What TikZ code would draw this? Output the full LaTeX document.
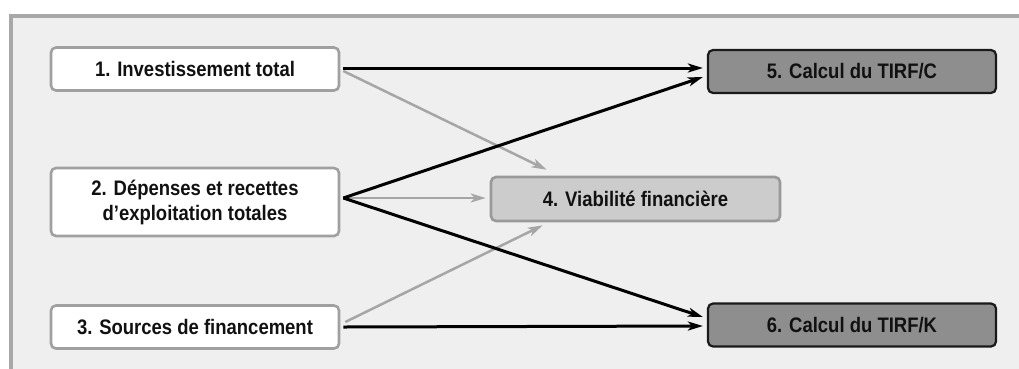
\documentclass[tikz,border=0pt]{standalone}
\usepackage{fontspec}
\setmainfont{Liberation Sans}[FakeStretch=0.88]
\usetikzlibrary{arrows.meta}
\definecolor{framegray}{HTML}{A8A8A8}
\definecolor{framefill}{HTML}{EFEFEF}
\definecolor{lightborder}{HTML}{A0A0A0}
\definecolor{midfill}{HTML}{CCCCCC}
\definecolor{midborder}{HTML}{999999}
\definecolor{darkfill}{HTML}{8E8E8E}
\definecolor{darkborder}{HTML}{1A1A1A}
\definecolor{greyarrow}{HTML}{A6A6A6}
\definecolor{textcol}{HTML}{111111}
\tikzset{
  base/.style={rounded corners=5pt, minimum height=43pt, inner sep=0pt,
    font=\fontsize{21pt}{25pt}\selectfont\bfseries, text=textcol, align=center},
  inbox/.style={base, draw=lightborder, line width=2.6pt, fill=white, minimum width=288pt},
  midbox/.style={base, draw=midborder, line width=2.6pt, fill=midfill, minimum width=289pt, minimum height=44pt},
  outbox/.style={base, draw=darkborder, line width=2.2pt, fill=darkfill, minimum width=288pt},
  blackarrow/.style={line width=3pt, draw=black, -{Stealth[length=15pt,width=9pt,inset=4pt]}},
  greyarr/.style={line width=2.5pt, draw=greyarrow, -{Stealth[length=15pt,width=9pt,inset=4pt]}},
}
\begin{document}
\begin{tikzpicture}[x=1pt,y=-1pt]
\useasboundingbox (0,0) rectangle (1019,368);
\begin{scope}
\clip (0,0) rectangle (1019,368);
\draw[draw=framegray, fill=framefill, line width=3.5pt] (11,16) rectangle (1040,400);
\end{scope}

\node[inbox] (b1) at (195,69) {1. Investissement total};
\node[inbox, minimum height=68pt] (b2) at (195,202) {2. Dépenses et recettes\\d’exploitation totales};
\node[inbox] (b3) at (195,327) {3. Sources de financement};
\node[midbox] (b4) at (635.5,199) {4. Viabilité financière};
\node[outbox] (b5) at (852,71.5) {5. Calcul du TIRF/C};
\node[outbox] (b6) at (852,325) {6. Calcul du TIRF/K};

% grey arrows to 4
\draw[greyarr] ([xshift=3pt,yshift=-2pt]b1.east) -- ([xshift=57pt,yshift=6pt]b4.north west);
\draw[greyarr] ([xshift=3pt,yshift=4pt]b2.east) -- ([xshift=-4pt,yshift=1pt]b4.west);
\draw[greyarr] ([xshift=5pt,yshift=5pt]b3.east) -- ([xshift=53pt,yshift=-3pt]b4.south west);

% black arrows
\draw[blackarrow] ([xshift=3pt,yshift=1pt]b1.east) -- ([xshift=-4pt,yshift=3.5pt]b5.west);
\draw[blackarrow] ([xshift=3pt,yshift=4pt]b2.east) -- ([xshift=-4pt,yshift=-5.5pt]b5.west);
\draw[blackarrow] ([xshift=3pt,yshift=4pt]b2.east) -- ([xshift=-4pt,yshift=8pt]b6.west);
\draw[blackarrow] ([xshift=3pt]b3.east) -- ([xshift=-4pt,yshift=-1pt]b6.west);
\end{tikzpicture}
\end{document}
